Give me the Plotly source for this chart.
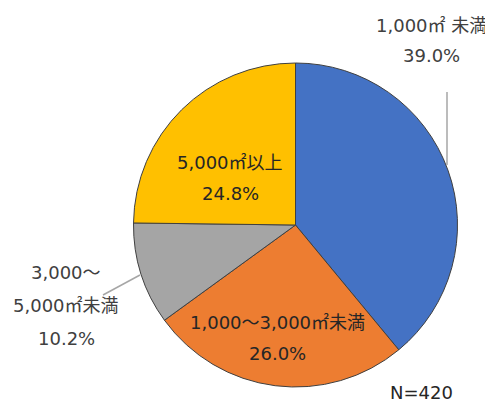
import plotly.graph_objects as go

labels = ['1,000㎡ 未満', '1,000～3,000㎡未満', '3,000～5,000㎡未満', '5,000㎡以上']
values = [39.0, 26.0, 10.2, 24.8]
colors = ['#4472C4', '#ED7D31', '#A5A5A5', '#FFC000']
n_total = 420

FONT = 'DejaVu Sans, Noto Sans CJK JP'
# page body has an 8px margin, so the figure is drawn 8px in from the corner
OFF = 8
W, H = 493 - OFF, 403 - OFF


def px(x, y):
    return (x - OFF) / W, 1 - (y - OFF) / H


d0 = px(133, 387)
d1 = px(458, 63)

fig = go.Figure(go.Pie(
    labels=labels,
    values=values,
    sort=False,
    direction='clockwise',
    rotation=0,
    marker=dict(colors=colors, line=dict(color='#404040', width=1)),
    textinfo='none',
    hoverinfo='label+percent',
    domain=dict(x=[d0[0], d1[0]], y=[d0[1], d1[1]]),
    showlegend=False,
))

# label text: (lines, center x, first-line y, line gap, color)
label_spots = [
    (['1,000㎡ 未満', f'{values[0]:.1f}%'], 431, 25, 31, '#404040'),
    (['1,000～3,000㎡未満', f'{values[1]:.1f}%'], 277, 322, 31, '#262626'),
    (['3,000～', '5,000㎡未満', f'{values[2]:.1f}%'], 66, 272, 33, '#404040'),
    (['5,000㎡以上', f'{values[3]:.1f}%'], 230, 162, 31, '#262626'),
]

annotations = []
for lines, cx, y0, gap, col in label_spots:
    for i, t in enumerate(lines):
        x, y = px(cx, y0 + i * gap)
        annotations.append(dict(
            x=x, y=y, xref='paper', yref='paper', text=t, showarrow=False,
            xanchor='center', yanchor='middle',
            font=dict(family=FONT, size=18, color=col),
        ))

x, y = px(421, 392)
annotations.append(dict(
    x=x, y=y, xref='paper', yref='paper', text=f'N={n_total}', showarrow=False,
    xanchor='center', yanchor='middle',
    font=dict(family=FONT, size=18, color='#262626'),
))

# leader lines
shapes = []
for (x0, y0, x1, y1) in [(447, 92, 447, 165), (103, 295, 140, 275)]:
    a = px(x0, y0)
    b = px(x1, y1)
    shapes.append(dict(type='line', xref='paper', yref='paper',
                       x0=a[0], y0=a[1], x1=b[0], y1=b[1],
                       line=dict(color='#A6A6A6', width=1.5)))

fig.update_layout(
    width=W, height=H,
    margin=dict(t=0, l=0, r=0, b=0),
    paper_bgcolor='white',
    plot_bgcolor='white',
    annotations=annotations,
    shapes=shapes,
)

fig.write_html('out.html')
